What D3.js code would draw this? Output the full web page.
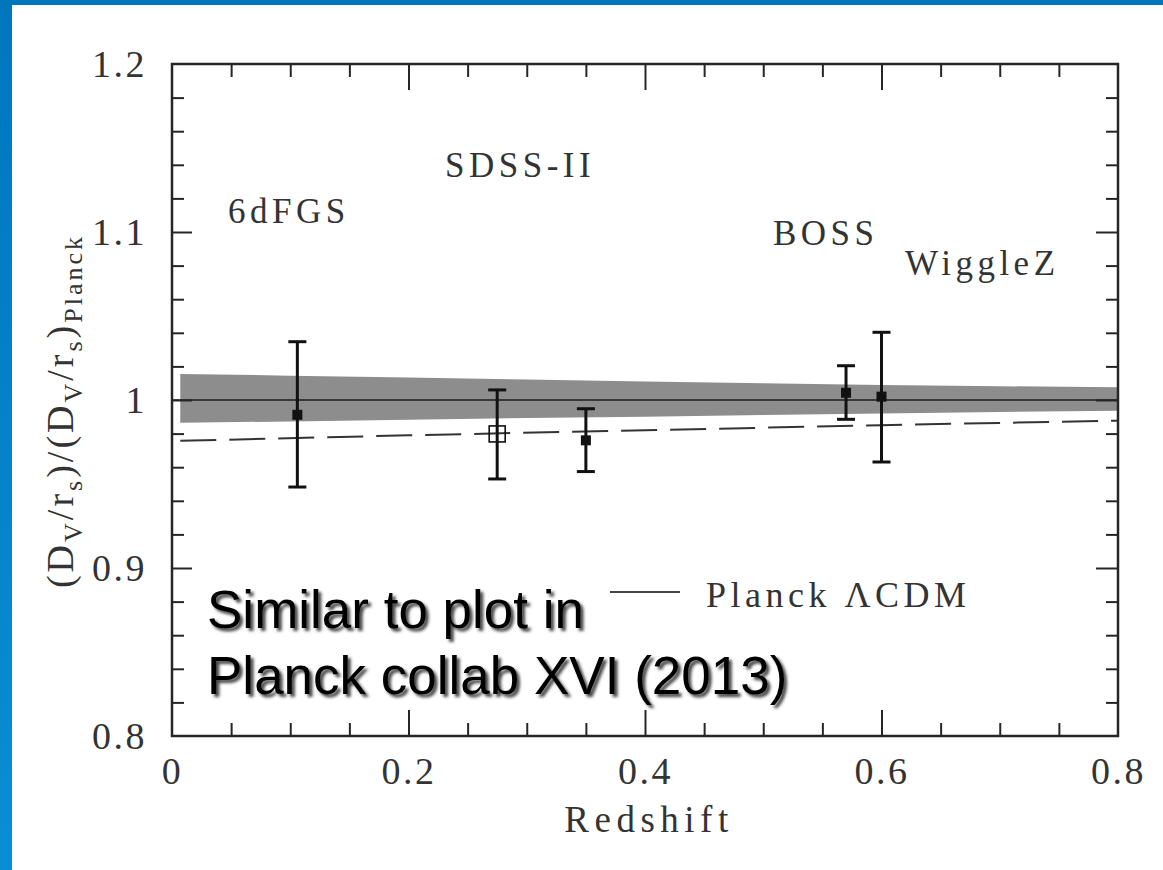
<!DOCTYPE html>
<html>
<head>
<meta charset="utf-8">
<script src="https://cdn.jsdelivr.net/npm/d3@7"></script>
<style>
  body { margin: 0; background: #fff; }
  svg { display: block; }
</style>
</head>
<body>
<div id="chart"></div>
<script>
// BAO distance ratio vs redshift

// Planck LCDM 1-sigma band
const bandZ = [0.007, 0.1, 0.2, 0.3, 0.4, 0.5, 0.6, 0.7, 0.8];
const bandUpper = [1.0155, 1.0145, 1.0134, 1.0122, 1.0110, 1.0099, 1.0090, 1.0082, 1.0076];
const bandLower = [0.9865, 0.9872, 0.9882, 0.9893, 0.9900, 0.9910, 0.9920, 0.9929, 0.9936];

// dashed model curve
const dashedZ = [0.007, 0.2, 0.4, 0.6, 0.8];
const dashedValues = [0.9757, 0.9790, 0.9820, 0.9850, 0.9877];

// survey points
const surveyZ = [0.106, 0.275, 0.35, 0.57, 0.6];
const surveyValues = [0.9912, 0.9798, 0.9760, 1.0043, 1.0020];
const surveyLow = [0.9482, 0.9530, 0.9574, 0.9885, 0.9631];
const surveyHigh = [1.0347, 1.0060, 0.9948, 1.0204, 1.0403];
const surveyOpen = [false, true, false, false, false];

// survey names
const surveyNames = ['6dFGS', 'SDSS-II', 'BOSS', 'WiggleZ'];

// axis ticks
const xTickValues = d3.range(0, 16 + 1).map(i => i * 0.05);
const yTickValues = d3.range(0, 20 + 1).map(i => 0.8 + i * 0.02);

const width = 1163;
const height = 870;
const serif = "'Liberation Serif', 'Times New Roman', serif";
const ink = '#262626';

const svg = d3.select('#chart').append('svg')
  .attr('width', width)
  .attr('height', height);

const defs = svg.append('defs');
const grad = defs.append('linearGradient')
  .attr('id', 'edge')
  .attr('x1', 0).attr('y1', 0).attr('x2', 0).attr('y2', 1);
grad.append('stop').attr('offset', '0%').attr('stop-color', '#0076bd');
grad.append('stop').attr('offset', '100%').attr('stop-color', '#0a8ed3');

const shadow = defs.append('filter')
  .attr('id', 'shadow')
  .attr('x', '-10%').attr('y', '-20%')
  .attr('width', '130%').attr('height', '160%');
shadow.append('feDropShadow')
  .attr('dx', 3).attr('dy', 3)
  .attr('stdDeviation', 1.6)
  .attr('flood-color', '#333')
  .attr('flood-opacity', 0.9);

// slide frame
svg.append('rect').attr('width', width).attr('height', height).attr('fill', '#fff');
svg.append('rect').attr('x', 0).attr('y', 0).attr('width', 12).attr('height', height).attr('fill', 'url(#edge)');
svg.append('rect').attr('x', 0).attr('y', 0).attr('width', width).attr('height', 5).attr('fill', '#0076bd');

const x = d3.scaleLinear().domain([0, 0.8]).range([172, 1118]);
const y = d3.scaleLinear().domain([0.8, 1.2]).range([736, 64]);

const isMajorX = v => Math.abs(v / 0.2 - Math.round(v / 0.2)) < 1e-6;
const isMajorY = v => Math.abs(v / 0.1 - Math.round(v / 0.1)) < 1e-6;

//
// band, reference line and dashed curve
//

const bandRows = bandZ.map((z, i) => ({ z, lo: bandLower[i], hi: bandUpper[i] }));
svg.append('path')
  .datum(bandRows)
  .attr('fill', '#8d8d8d')
  .attr('d', d3.area()
    .x(d => x(d.z))
    .y0(d => y(d.lo))
    .y1(d => y(d.hi)));

svg.append('line')
  .attr('x1', x(0)).attr('x2', x(0.8))
  .attr('y1', y(1)).attr('y2', y(1))
  .attr('stroke', '#1e1e1e')
  .attr('stroke-width', 1.6);

const dashedRows = dashedZ.map((z, i) => ({ z, v: dashedValues[i] }));
svg.append('path')
  .datum(dashedRows)
  .attr('fill', 'none')
  .attr('stroke', '#333')
  .attr('stroke-width', 2)
  .attr('stroke-dasharray', '36,13')
  .attr('d', d3.line().x(d => x(d.z)).y(d => y(d.v)));

//
// survey points with error bars
//

const points = surveyZ.map((z, i) => ({
  z, v: surveyValues[i], lo: surveyLow[i], hi: surveyHigh[i], open: surveyOpen[i]
}));

const pointG = svg.append('g')
  .selectAll('g')
  .data(points)
  .enter().append('g');

pointG.append('line')
  .attr('x1', d => x(d.z)).attr('x2', d => x(d.z))
  .attr('y1', d => y(d.lo)).attr('y2', d => y(d.hi))
  .attr('stroke', '#111')
  .attr('stroke-width', 3);

pointG.selectAll('.cap')
  .data(d => [{ z: d.z, v: d.lo }, { z: d.z, v: d.hi }])
  .enter().append('line')
  .attr('class', 'cap')
  .attr('x1', d => x(d.z) - 9).attr('x2', d => x(d.z) + 9)
  .attr('y1', d => y(d.v)).attr('y2', d => y(d.v))
  .attr('stroke', '#111')
  .attr('stroke-width', 3);

pointG.append('rect')
  .attr('x', d => x(d.z) - (d.open ? 8 : 5))
  .attr('y', d => y(d.v) - (d.open ? 8 : 5))
  .attr('width', d => d.open ? 16 : 10)
  .attr('height', d => d.open ? 16 : 10)
  .attr('fill', d => d.open ? 'none' : '#111')
  .attr('stroke', '#111')
  .attr('stroke-width', d => d.open ? 1.6 : 0);

//
// axes: frame, ticks on all four sides, labels on left and bottom
//

const bottomAxis = d3.axisBottom(x)
  .tickValues(xTickValues)
  .tickSizeInner(-13)
  .tickSizeOuter(0)
  .tickPadding(21)
  .tickFormat(d => (isMajorX(d) ? (d === 0 ? '0' : d3.format('.1f')(d)) : ''));

const topAxis = d3.axisTop(x)
  .tickValues(xTickValues)
  .tickSizeInner(-13)
  .tickSizeOuter(0)
  .tickFormat('');

const leftAxis = d3.axisLeft(y)
  .tickValues(yTickValues)
  .tickSizeInner(-12)
  .tickSizeOuter(0)
  .tickPadding(25)
  .tickFormat(d => (isMajorY(d) ? (Math.abs(d - 1) < 1e-6 ? '1' : d3.format('.1f')(d)) : ''));

const rightAxis = d3.axisRight(y)
  .tickValues(yTickValues)
  .tickSizeInner(-12)
  .tickSizeOuter(0)
  .tickFormat('');

const gBottom = svg.append('g').attr('transform', `translate(0,${y(0.8)})`).call(bottomAxis);
const gTop = svg.append('g').attr('transform', `translate(0,${y(1.2)})`).call(topAxis);
const gLeft = svg.append('g').attr('transform', `translate(${x(0)},0)`).call(leftAxis);
const gRight = svg.append('g').attr('transform', `translate(${x(0.8)},0)`).call(rightAxis);

gBottom.selectAll('.tick line').attr('y2', d => (isMajorX(d) ? -26 : -13));
gTop.selectAll('.tick line').attr('y2', d => (isMajorX(d) ? 26 : 13));
gLeft.selectAll('.tick line').attr('x2', d => (isMajorY(d) ? 20 : 12));
gRight.selectAll('.tick line').attr('x2', d => (isMajorY(d) ? -22 : -12));

[gBottom, gTop, gLeft, gRight].forEach(g => {
  g.select('.domain').remove();
  g.selectAll('.tick line')
    .attr('stroke', ink)
    .attr('stroke-width', 2)
    .filter(d => Math.abs(d - 0.8) < 1e-6 || Math.abs(d - 1.2) < 1e-6 || Math.abs(d) < 1e-6)
    .remove();
  g.selectAll('.tick text')
    .attr('fill', '#333')
    .style('font-family', serif)
    .style('font-size', '38px')
    .style('letter-spacing', '2.5px');
});

svg.append('rect')
  .attr('x', x(0)).attr('y', y(1.2))
  .attr('width', x(0.8) - x(0))
  .attr('height', y(0.8) - y(1.2))
  .attr('fill', 'none')
  .attr('stroke', ink)
  .attr('stroke-width', 2.5);

svg.append('text')
  .attr('x', (x(0) + x(0.8)) / 2 + 4)
  .attr('y', 832)
  .attr('text-anchor', 'middle')
  .attr('fill', '#333')
  .style('font-family', serif)
  .style('font-size', '37px')
  .style('letter-spacing', '5.5px')
  .text('Redshift');

// y axis title with subscripts
const yTitle = svg.append('text')
  .attr('transform', `translate(73,${(y(1.0) + y(1.1)) / 2 + 95}) rotate(-90)`)
  .attr('text-anchor', 'middle')
  .attr('fill', '#333')
  .style('font-family', serif)
  .style('font-size', '38px')
  .style('letter-spacing', '3px');

const titleParts = [
  ['(D', false], ['V', true], ['/r', false], ['s', true], [')/(D', false],
  ['V', true], ['/r', false], ['s', true], [')', false], ['Planck', true]
];
let shifted = false;
titleParts.forEach(([t, sub]) => {
  const ts = yTitle.append('tspan').text(t);
  if (sub && !shifted) {
    ts.attr('dy', 9).style('font-size', '26px');
    shifted = true;
  } else if (!sub && shifted) {
    ts.attr('dy', -9);
    shifted = false;
  } else if (sub) {
    ts.style('font-size', '26px');
  }
});

//
// survey names and legend
//

const labelZ = [0.0474, 0.2309, 0.5082, 0.6199];
const labelV = [1.1054, 1.1327, 1.0923, 1.0744];

svg.append('g')
  .selectAll('text')
  .data(surveyNames)
  .enter().append('text')
  .attr('x', (d, i) => x(labelZ[i]))
  .attr('y', (d, i) => y(labelV[i]))
  .attr('fill', '#333')
  .style('font-family', serif)
  .style('font-size', '35px')
  .style('letter-spacing', '4.5px')
  .text(d => d);

svg.append('line')
  .attr('x1', x(0.3704)).attr('x2', x(0.4296))
  .attr('y1', y(0.8857)).attr('y2', y(0.8857))
  .attr('stroke', '#444')
  .attr('stroke-width', 2);

svg.append('text')
  .attr('x', x(0.4516))
  .attr('y', y(0.8768))
  .attr('fill', '#333')
  .style('font-family', serif)
  .style('font-size', '36px')
  .style('letter-spacing', '4.5px')
  .text('Planck ΛCDM');

//
// slide caption over the plot
//

const caption = svg.append('g')
  .style('font-family', "'Liberation Sans', Arial, Helvetica, sans-serif")
  .style('font-size', '53px')
  .attr('fill', '#000')
  .attr('filter', 'url(#shadow)');

caption.append('text').attr('x', 207).attr('y', 628).text('Similar to plot in');
caption.append('text').attr('x', 207).attr('y', 694).text('Planck collab XVI (2013)');
</script>
</body>
</html>
